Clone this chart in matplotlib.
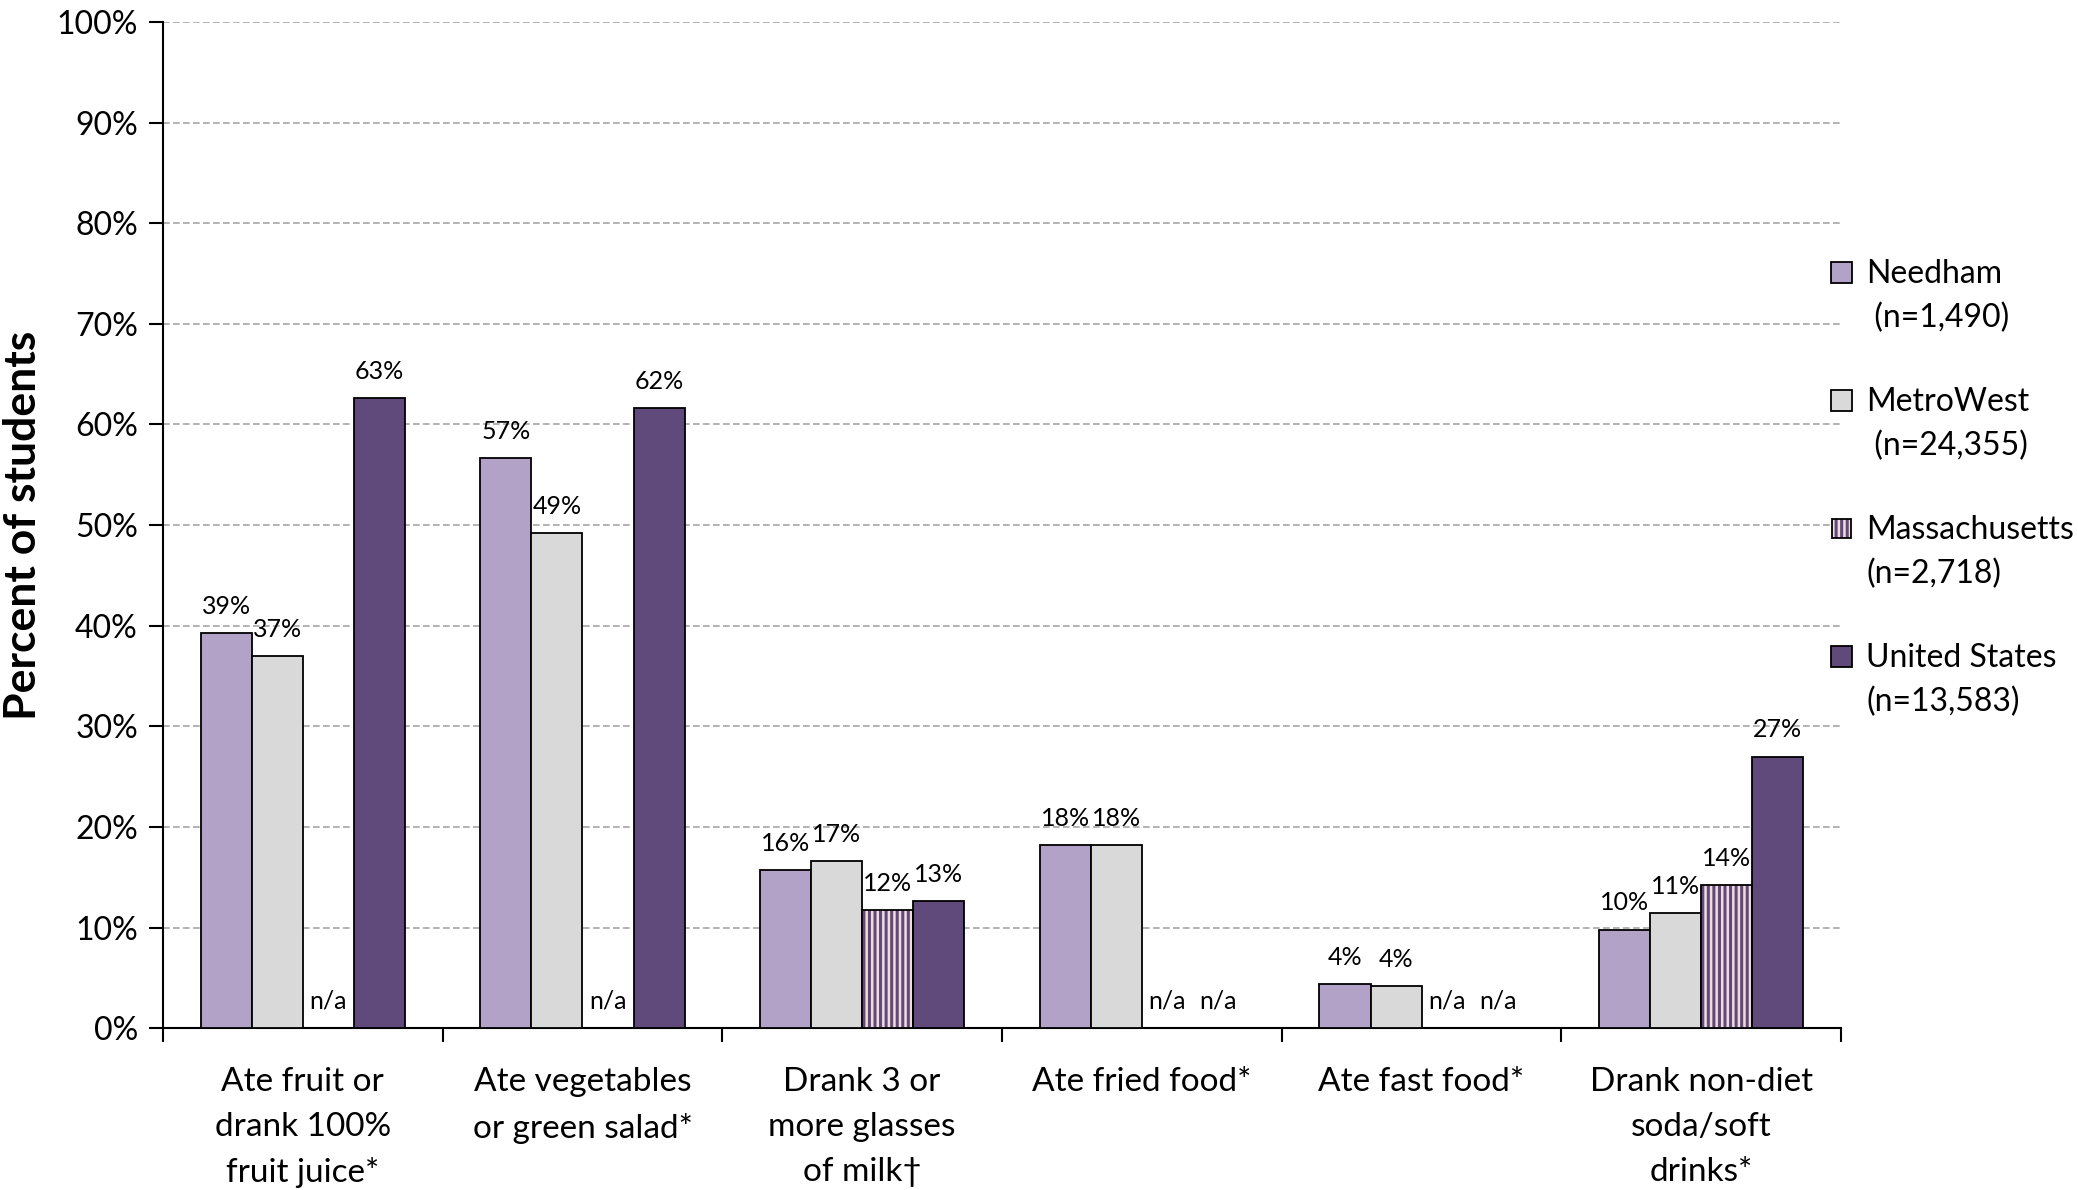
import numpy as np
import matplotlib
matplotlib.use('Agg')
import matplotlib.pyplot as plt
from matplotlib.patches import Rectangle

plt.rcParams['font.family'] = ['Lato', 'DejaVu Sans']
plt.rcParams['hatch.linewidth'] = 2.2

# カテゴリとデータ
categories = ['Ate fruit or\ndrank 100%\nfruit juice*',
              'Ate vegetables\nor green salad*',
              'Drank 3 or\nmore glasses\nof milk\u2020',
              'Ate fried food*',
              'Ate fast food*',
              'Drank non-diet\nsoda/soft\ndrinks*']

needham = [39.3, 56.7, 15.7, 18.2, 4.4, 9.8]
metrowest = [37.0, 49.2, 16.6, 18.2, 4.2, 11.4]
massachusetts = [np.nan, np.nan, 11.7, np.nan, np.nan, 14.2]
united_states = [62.6, 61.6, 12.6, np.nan, np.nan, 27.0]

series_names = ['Needham', 'MetroWest', 'Massachusetts', 'United States']
series_n = [' (n=1,490)', ' (n=24,355)', '(n=2,718)', '(n=13,583)']
y_ticks = [0, 10, 20, 30, 40, 50, 60, 70, 80, 90, 100]

colors = ['#B3A2C7', '#D9D9D9', '#F2DCDB', '#604A7B']
stripe = '#604A7B'

fig = plt.figure(figsize=(20.78, 11.9), dpi=100)
ax = fig.add_axes([0.0784, 0.136, 0.8076, 0.8455])

x = np.arange(len(categories))
w = 0.1825
all_series = [needham, metrowest, massachusetts, united_states]

for i, (vals, col) in enumerate(zip(all_series, colors)):
    pos = x + (i - 1.5) * w
    vals = np.array(vals, dtype=float)
    h = np.nan_to_num(vals)
    if i == 2:
        ax.bar(pos, h, w, color=col, edgecolor=stripe, hatch='|||',
               linewidth=0, zorder=3)
        ax.bar(pos, h, w, fill=False, edgecolor='black', linewidth=1.3, zorder=4)
    else:
        ax.bar(pos, h, w, color=col, edgecolor='black', linewidth=1.3, zorder=3)
    for p, v in zip(pos, vals):
        if np.isnan(v):
            ax.text(p, 2.0, 'n/a', ha='center', va='baseline', fontsize=18)
        else:
            ax.text(p, v + 1.9, f'{v:.0f}%', ha='center', va='baseline',
                    fontsize=18, zorder=5)

ax.set_xlim(-0.5, len(categories) - 0.5)
ax.set_ylim(0, 100)
ax.set_yticks(y_ticks)
ax.set_yticklabels([f'{t}%' for t in y_ticks], fontsize=23)
ax.yaxis.grid(True, color='#A6A6A6', linestyle=(0, (4, 2)), linewidth=1.2)
ax.set_axisbelow(True)

ax.set_xticks(np.arange(-0.5, len(categories), 1.0))
ax.set_xticklabels([])
ax.set_xticks(x, minor=True)
ax.set_xticklabels(categories, minor=True, fontsize=24, linespacing=1.62)
ax.tick_params(axis='x', which='major', length=10, width=1.5, direction='out')
ax.tick_params(axis='x', which='minor', length=0, pad=28)
ax.tick_params(axis='y', length=10, width=1.5, direction='out', pad=8)

for s in ['top', 'right']:
    ax.spines[s].set_visible(False)
for s in ['left', 'bottom']:
    ax.spines[s].set_linewidth(1.5)

ax.set_ylabel('Percent of students', fontsize=32, fontweight='bold', labelpad=10)

# 凡例（手動配置）
leg_y0 = 0.7406
leg_step = 0.1272
line2 = 0.0437
for i, (name, n, col) in enumerate(zip(series_names, series_n, colors)):
    yb = leg_y0 - i * leg_step
    if i == 2:
        r = Rectangle((0.9945, yb + 0.0005), 0.0115, 0.019, transform=ax.transAxes,
                      facecolor=col, edgecolor=stripe, hatch='|||', linewidth=0,
                      clip_on=False)
        ax.add_patch(r)
        ax.add_patch(Rectangle((0.9945, yb + 0.0005), 0.0115, 0.019,
                               transform=ax.transAxes, fill=False,
                               edgecolor='black', linewidth=1.3, clip_on=False))
    else:
        ax.add_patch(Rectangle((0.994, yb), 0.0125, 0.0205, transform=ax.transAxes,
                               facecolor=col, edgecolor='black', linewidth=1.3,
                               clip_on=False))
    ax.text(1.0149, yb, name, transform=ax.transAxes, fontsize=23,
            va='baseline', ha='left')
    ax.text(1.0149, yb - line2, n, transform=ax.transAxes, fontsize=23,
            va='baseline', ha='left')

plt.savefig('out.png', dpi=100)
